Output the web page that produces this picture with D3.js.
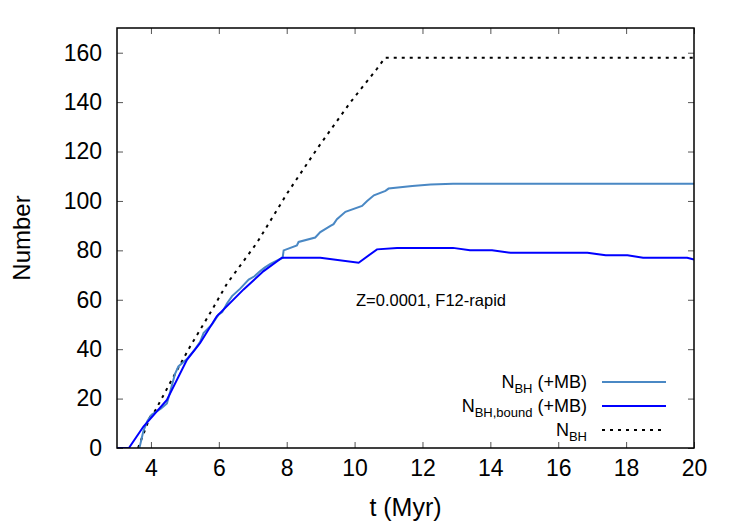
<!DOCTYPE html>
<html>
<head>
<meta charset="utf-8">
<script src="https://cdn.jsdelivr.net/npm/d3@7"></script>
<style>
  body { margin: 0; background: #fff; }
  text { font-family: "Liberation Sans", Arial, sans-serif; }
</style>
</head>
<body>
<div id="chart"></div>
<script>
// N_BH (total), dashed black
const tTotal = [3.62, 3.97, 4.12, 4.61, 5.15, 5.74, 6.24, 7.12, 8.01, 8.89, 9.88, 10.66, 10.9, 20];
const nTotal = [0, 12.5, 15, 27.5, 41, 54.5, 66.5, 83, 103, 121, 140, 153.5, 158, 158];

// N_BH (+MB), light blue
const tMB = [3.66, 3.78, 3.9, 4.02, 4.3, 4.47, 4.55, 4.71, 4.81, 5.06, 5.3, 5.45, 5.55, 5.8, 5.99, 6.1, 6.24, 6.39, 6.63, 6.88, 7.05, 7.22, 7.35, 7.52, 7.81, 7.88, 7.91, 8.3, 8.35, 8.84, 8.99, 9.29, 9.38, 9.48, 9.73, 10.22, 10.37, 10.57, 10.91, 11.0, 11.7, 12.24, 12.9, 20];
const nMB = [0, 7, 11, 13.5, 16, 18, 22, 30, 33, 36, 40, 43, 46.5, 50, 54, 55, 58.5, 61.5, 64.5, 68.2, 69.5, 71.6, 73, 74.5, 76.5, 77, 80, 82, 83.4, 85.2, 87.4, 89.9, 90.6, 92.6, 95.6, 98, 100, 102.3, 104.1, 105, 106, 106.7, 107, 107];

// N_BH,bound (+MB), blue
const tBound = [3, 3.35, 3.78, 4.47, 5.06, 5.45, 5.94, 6.73, 7.32, 7.86, 8.99, 10.12, 10.66, 11.25, 12.9, 13.4, 14.05, 14.6, 16.86, 17.4, 18.04, 18.5, 19.8, 20];
const nBound = [0, 0, 8.7, 19.5, 35.7, 42.5, 53.3, 64.2, 71.6, 77, 77, 75, 80.4, 81, 81, 80, 80, 79, 79, 78, 78, 77, 77, 76.3];

const xTicks = [4, 6, 8, 10, 12, 14, 16, 18, 20];
const yTicks = [0, 20, 40, 60, 80, 100, 120, 140, 160];

const width = 750, height = 525;
const margin = { left: 117, right: 56, top: 28, bottom: 77 };

const svg = d3.select("#chart").append("svg")
  .attr("width", width)
  .attr("height", height);

const x = d3.scaleLinear().domain([3, 20]).range([margin.left, width - margin.right]);
const y = d3.scaleLinear().domain([0, 170]).range([height - margin.bottom, margin.top]);

svg.append("clipPath").attr("id", "plot")
  .append("rect")
  .attr("x", margin.left).attr("y", margin.top)
  .attr("width", width - margin.left - margin.right)
  .attr("height", height - margin.top - margin.bottom);

// ticks on all four sides, pointing inward
const tickLen = 6;
const axisB = svg.append("g").attr("transform", `translate(0,${y(0)})`)
  .call(d3.axisBottom(x).tickValues(xTicks).tickSize(-tickLen).tickPadding(12).tickFormat(d3.format("d")));
const axisT = svg.append("g").attr("transform", `translate(0,${y(170)})`)
  .call(d3.axisTop(x).tickValues(xTicks).tickSize(-tickLen).tickFormat(""));
const axisL = svg.append("g").attr("transform", `translate(${x(3)},0)`)
  .call(d3.axisLeft(y).tickValues(yTicks).tickSize(-tickLen).tickPadding(15));
const axisR = svg.append("g").attr("transform", `translate(${x(20)},0)`)
  .call(d3.axisRight(y).tickValues(yTicks).tickSize(-tickLen).tickFormat(""));

[axisB, axisT, axisL, axisR].forEach(a => {
  a.select(".domain").remove();
  a.selectAll(".tick line").attr("stroke", "#555").attr("stroke-width", 1);
  a.selectAll(".tick text").attr("fill", "#000").style("font-size", "23px");
});
axisB.selectAll(".tick text").attr("dy", "0.71em");

// lines
const line = d3.line().x(d => x(d[0])).y(d => y(d[1]));
const plot = svg.append("g").attr("clip-path", "url(#plot)");

plot.append("path")
  .datum(d3.zip(tTotal, nTotal))
  .attr("d", line)
  .attr("fill", "none")
  .attr("stroke", "#000")
  .attr("stroke-width", 2)
  .attr("stroke-dasharray", "3,5");

plot.append("path")
  .datum(d3.zip(tMB, nMB))
  .attr("d", line)
  .attr("fill", "none")
  .attr("stroke", "#4a88c4")
  .attr("stroke-width", 2);

plot.append("path")
  .datum(d3.zip(tBound, nBound))
  .attr("d", line)
  .attr("fill", "none")
  .attr("stroke", "#0000ff")
  .attr("stroke-width", 2);

// frame
svg.append("rect")
  .attr("x", x(3)).attr("y", y(170))
  .attr("width", x(20) - x(3)).attr("height", y(0) - y(170))
  .attr("fill", "none")
  .attr("stroke", "#000")
  .attr("stroke-width", 1.5);

// axis titles
svg.append("text")
  .attr("x", (x(3) + x(20)) / 2)
  .attr("y", 516)
  .attr("text-anchor", "middle")
  .style("font-size", "25px")
  .text("t (Myr)");

svg.append("text")
  .attr("transform", `translate(30,${(y(0) + y(170)) / 2}) rotate(-90)`)
  .attr("text-anchor", "middle")
  .style("font-size", "24px")
  .text("Number");

// annotation
svg.append("text")
  .attr("x", 431)
  .attr("y", 306)
  .attr("text-anchor", "middle")
  .style("font-size", "16.5px")
  .text("Z=0.0001, F12-rapid");

// legend
const legendItems = [
  { sub: "BH", tail: " (+MB)", color: "#4a88c4", dash: null },
  { sub: "BH,bound", tail: " (+MB)", color: "#0000ff", dash: null },
  { sub: "BH", tail: "", color: "#000", dash: "3,5" }
];
const legend = svg.append("g");
legendItems.forEach((d, i) => {
  const yy = 382 + i * 24;
  const t = legend.append("text")
    .attr("x", 587)
    .attr("y", yy + 6)
    .attr("text-anchor", "end")
    .style("font-size", "18px");
  t.append("tspan").text("N");
  t.append("tspan").attr("dy", 5).style("font-size", "13px").text(d.sub);
  t.append("tspan").attr("dy", -5).text(d.tail);
  legend.append("line")
    .attr("x1", 602).attr("x2", 666)
    .attr("y1", yy).attr("y2", yy)
    .attr("stroke", d.color)
    .attr("stroke-width", d.dash ? 2 : 1.8)
    .attr("stroke-dasharray", d.dash);
});
</script>
</body>
</html>
